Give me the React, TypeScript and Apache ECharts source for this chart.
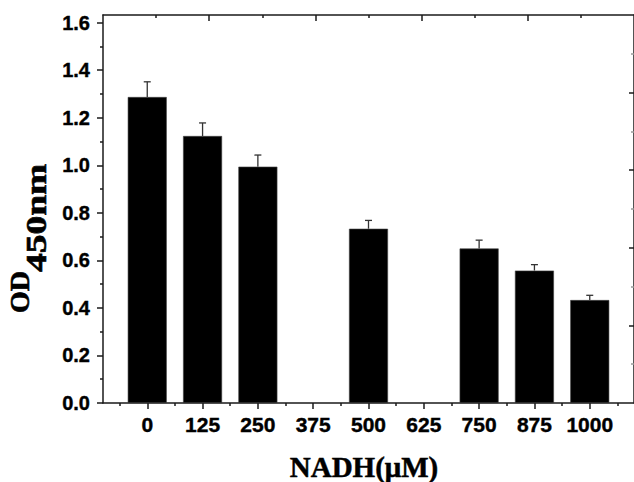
import React, { useEffect, useRef } from "react";
import * as echarts from "echarts";

// Data
const concentrations = [0, 125, 250, 375, 500, 625, 750, 875, 1000];
const odValues: (number | null)[] = [1.287, 1.123, 0.994, null, 0.733, null, 0.65, 0.557, 0.433];
const odErrors: (number | null)[] = [0.064, 0.055, 0.049, null, 0.035, null, 0.035, 0.025, 0.02];
const xMinorTicks = [-62.5, 62.5, 187.5, 312.5, 437.5, 562.5, 687.5, 812.5, 937.5, 1062.5];
const yMajorTicks = [0, 0.2, 0.4, 0.6, 0.8, 1.0, 1.2, 1.4, 1.6];
const yMinorTicks = [0.1, 0.3, 0.5, 0.7, 0.9, 1.1, 1.3, 1.5];
const topMajorTicks = [2, 4, 6, 8];
const topMinorTicks = [1, 3, 5, 7, 9];
const rightMajorTicks = [1, 2, 3, 4];
const rightMinorTicks = [0.5, 1.5, 2.5, 3.5, 4.5];

const AX = "#1a1a1a";
const SANS = "'Liberation Sans', Arial, sans-serif";
const SERIF = "'Liberation Serif', 'Times New Roman', serif";

export default function App() {
  const ref = useRef<HTMLDivElement>(null);
  useEffect(() => {
    if (!ref.current) return;
    const chart = echarts.init(ref.current, undefined, { renderer: "svg" });
    const barData = concentrations
      .map((c, i) => (odValues[i] == null ? null : [c, odValues[i]]))
      .filter((d) => d != null);
    const errData = concentrations
      .map((c, i) => (odValues[i] == null ? null : [c, odValues[i], odErrors[i]]))
      .filter((d) => d != null);

    const hiddenLabel = { show: false };
    const line = (show: boolean) => ({
      show,
      onZero: false,
      lineStyle: { color: AX, width: 1.5 },
    });

    chart.setOption({
      animation: false,
      grid: { left: 103, top: 15, width: 532, height: 388 },
      xAxis: [
        {
          type: "value",
          position: "bottom",
          min: -100,
          max: 1100,
          axisLine: line(true),
          splitLine: { show: false },
          axisTick: {
            show: true,
            inside: false,
            length: 6,
            customValues: concentrations,
            lineStyle: { color: AX, width: 1.5 },
          },
          axisLabel: {
            customValues: concentrations,
            formatter: (v: number) => String(v),
            fontFamily: SANS,
            fontWeight: "bold",
            fontSize: 21,
            color: "#000",
            textBorderColor: "#000",
            textBorderWidth: 0.4,
            margin: 11,
          },
        },
        {
          type: "value",
          position: "bottom",
          min: -100,
          max: 1100,
          axisLine: line(false),
          splitLine: { show: false },
          axisTick: {
            show: true,
            inside: false,
            length: 3,
            customValues: xMinorTicks,
            lineStyle: { color: AX, width: 1.5 },
          },
          axisLabel: hiddenLabel,
        },
        {
          type: "value",
          position: "top",
          min: 0,
          max: 10,
          axisLine: line(true),
          splitLine: { show: false },
          axisTick: {
            show: true,
            inside: true,
            length: 6,
            customValues: topMajorTicks,
            lineStyle: { color: AX, width: 1.5 },
          },
          axisLabel: hiddenLabel,
        },
        {
          type: "value",
          position: "top",
          min: 0,
          max: 10,
          axisLine: line(false),
          splitLine: { show: false },
          axisTick: {
            show: true,
            inside: true,
            length: 3,
            customValues: topMinorTicks,
            lineStyle: { color: AX, width: 1.5 },
          },
          axisLabel: hiddenLabel,
        },
      ],
      yAxis: [
        {
          type: "value",
          position: "left",
          min: 0,
          max: 1.632,
          axisLine: line(true),
          splitLine: { show: false },
          axisTick: {
            show: true,
            inside: false,
            length: 6,
            customValues: yMajorTicks,
            lineStyle: { color: AX, width: 1.5 },
          },
          axisLabel: {
            customValues: yMajorTicks,
            formatter: (v: number) => v.toFixed(1),
            fontFamily: SANS,
            fontWeight: "bold",
            fontSize: 20,
            color: "#000",
            textBorderColor: "#000",
            textBorderWidth: 0.4,
            margin: 13,
          },
        },
        {
          type: "value",
          position: "left",
          min: 0,
          max: 1.632,
          axisLine: line(false),
          splitLine: { show: false },
          axisTick: {
            show: true,
            inside: false,
            length: 3,
            customValues: yMinorTicks,
            lineStyle: { color: AX, width: 1.5 },
          },
          axisLabel: hiddenLabel,
        },
        {
          type: "value",
          position: "right",
          min: 0,
          max: 5,
          axisLine: line(true),
          splitLine: { show: false },
          axisTick: {
            show: true,
            inside: true,
            length: 5,
            customValues: rightMajorTicks,
            lineStyle: { color: AX, width: 1.5 },
          },
          axisLabel: hiddenLabel,
        },
        {
          type: "value",
          position: "right",
          min: 0,
          max: 5,
          axisLine: line(false),
          splitLine: { show: false },
          axisTick: {
            show: true,
            inside: true,
            length: 3,
            customValues: rightMinorTicks,
            lineStyle: { color: "#999", width: 1.5 },
          },
          axisLabel: hiddenLabel,
        },
      ],
      series: [
        {
          type: "bar",
          xAxisIndex: 0,
          yAxisIndex: 0,
          data: barData,
          barWidth: 39,
          itemStyle: { color: "#000", borderColor: "#444", borderWidth: 0.6 },
        },
        {
          type: "custom",
          xAxisIndex: 0,
          yAxisIndex: 0,
          data: errData,
          z: 1,
          renderItem: (_params: any, api: any) => {
            const x = api.value(0);
            const v = api.value(1);
            const e = api.value(2);
            const p0 = api.coord([x, v]);
            const p1 = api.coord([x, v + e]);
            const style = { stroke: "#333", lineWidth: 1.3 };
            return {
              type: "group",
              children: [
                { type: "line", shape: { x1: p0[0], y1: p0[1], x2: p1[0], y2: p1[1] }, style },
                { type: "line", shape: { x1: p1[0] - 3.5, y1: p1[1], x2: p1[0] + 3.5, y2: p1[1] }, style },
              ],
            };
          },
        },
      ],
      graphic: [
        {
          type: "text",
          x: 19,
          y: 313,
          rotation: Math.PI / 2,
          style: {
            text: "OD",
            font: `bold 28px ${SERIF}`,
            fill: "#000",
            stroke: "#000",
            lineWidth: 0.6,
            align: "left",
            verticalAlign: "middle",
          },
        },
        {
          type: "text",
          x: 36,
          y: 272,
          rotation: Math.PI / 2,
          scaleX: 1.25,
          style: {
            text: "450nm",
            font: `bold 30px ${SERIF}`,
            fill: "#000",
            stroke: "#000",
            lineWidth: 0.6,
            align: "left",
            verticalAlign: "middle",
          },
        },
        {
          type: "text",
          x: 364,
          y: 467,
          style: {
            text: "NADH(μM)",
            font: `bold 29px ${SERIF}`,
            fill: "#000",
            stroke: "#000",
            lineWidth: 0.5,
            align: "center",
            verticalAlign: "middle",
          },
        },
      ],
    });
    return () => chart.dispose();
  }, []);
  return (
    <div
      ref={ref}
      style={{ position: "absolute", left: 0, top: 0, width: 634, height: 482, background: "#fff" }}
    />
  );
}
